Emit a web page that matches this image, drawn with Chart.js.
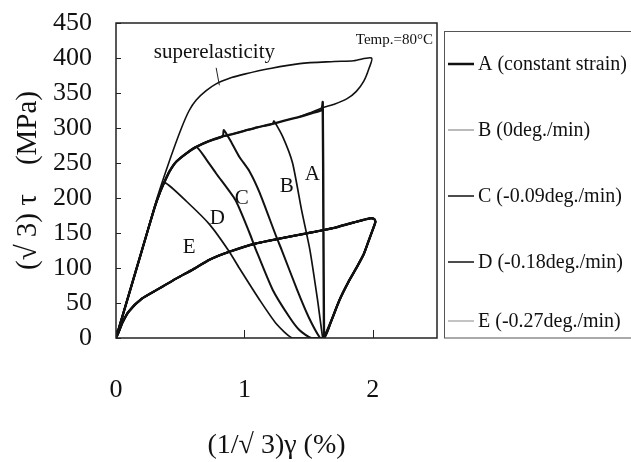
<!DOCTYPE html>
<html>
<head>
<meta charset="utf-8">
<script src="https://cdn.jsdelivr.net/npm/chart.js@4.4.1/dist/chart.umd.min.js"></script>
<style>
  html, body { margin: 0; padding: 0; background: #fff; }
  #wrap { width: 631px; height: 462px; }
</style>
</head>
<body>
<div id="wrap"><canvas id="grafico" width="631" height="462"></canvas></div>
<script>
// strain (1/√3)γ in %, stress (√3)τ in MPa

// common loading path
const loadX = [0, 0.1, 0.2, 0.3, 0.34, 0.38, 0.42, 0.47, 0.55, 0.625, 0.72, 0.83, 0.9, 1.0, 1.1, 1.22, 1.32, 1.43, 1.52, 1.6];
const loadY = [0, 62, 124, 186, 207, 224, 239, 252, 264, 273, 281, 288, 291, 296, 301, 306, 311, 316, 321, 326];

// recovery loop, back to the origin
const loopX = [1.62, 1.68, 1.74, 1.81, 1.875, 1.93, 1.97, 2.0, 2.02, 2.01, 1.98, 1.85, 1.69, 1.5, 1.3, 1.09, 0.88, 0.73, 0.6, 0.47, 0.33, 0.2, 0.1, 0.05, 0.02, 0];
const loopY = [0, 26, 54, 80, 101, 120, 140, 155, 166, 170, 171, 165, 157, 150, 143, 135, 123, 112, 98, 85, 70, 56, 38, 22, 8, 0];

// stress drop of each series
const aX = [1.61, 1.615, 1.62];
const aY = [337, 170, 0];
const bX = [1.23, 1.3, 1.375, 1.445, 1.51, 1.57, 1.61];
const bY = [310, 287, 250, 183, 126, 54, 0];
const cX = [0.84, 0.9, 0.96, 1.04, 1.12, 1.25, 1.29, 1.41, 1.5, 1.59];
const cY = [297, 279, 259, 238, 207, 144, 126, 69, 30, 0];
const dX = [0.625, 0.7, 0.78, 0.93, 1.04, 1.09, 1.22, 1.35, 1.43, 1.52];
const dY = [273, 256, 235, 197, 150, 126, 69, 30, 11, 0];
const eX = [0.38, 0.55, 0.73, 0.88, 0.96, 1.12, 1.25, 1.375];
const eY = [222, 195, 162, 124, 100, 54, 20, 0];

// superelasticity (loading + unloading)
const superX = [0, 0.2, 0.32, 0.42, 0.51, 0.57, 0.625, 0.7, 0.78, 0.9, 1.0, 1.2, 1.43, 1.7, 1.85, 1.99, 1.97, 1.93, 1.87, 1.8, 1.7, 1.61, 1.5, 1.43];
const superY = [0, 124, 200, 255, 300, 325, 340, 353, 363, 372, 377, 385, 392, 395, 396, 400, 385, 367, 352, 342, 334, 329, 321, 316];

const seriesNames = ['A (constant strain)', 'B (0deg./min)', 'C (-0.09deg./min)', 'D (-0.18deg./min)', 'E (-0.27deg./min)'];
const curveTags = ['A', 'B', 'C', 'D', 'E'];
const xTicks = [0, 1, 2];
const yTicks = [0, 50, 100, 150, 200, 250, 300, 350, 400, 450];

// posições dos rótulos (valores nos eixos)
const tagPos = [[1.53, 233], [1.33, 216], [0.98, 200], [0.79, 171], [0.57, 129]];

function pares(xs, ys) {
  return xs.map((x, i) => ({ x: x, y: ys[i] }));
}

// loading up to the branch, drop, then the loop
function montarSerie(dropX, dropY) {
  const inicio = pares(loadX, loadY).filter(p => p.x < dropX[0]);
  const queda = pares(dropX, dropY);
  const fim = pares(loopX, loopY);
  return inicio.concat(queda, fim);
}

const drops = [[aX, aY], [bX, bY], [cX, cY], [dX, dY], [eX, eY]];
const larguras = [2.4, 1.7, 2, 2, 1.7];
const coresLegenda = ['#111', '#777', '#111', '#111', '#888'];
const legendaLargura = [2.5, 1, 1.5, 1.5, 1];

const datasets = drops.map((d, i) => ({
  label: seriesNames[i],
  data: montarSerie(d[0], d[1]),
  borderColor: '#111',
  borderWidth: larguras[i],
  showLine: true,
  pointRadius: 0,
  tension: 0.2
}));
datasets.push({
  label: 'superelasticity',
  data: pares(superX, superY),
  borderColor: '#111',
  borderWidth: 1.6,
  showLine: true,
  pointRadius: 0,
  tension: 0.3
});

const serif = 'Liberation Serif';

const extras = {
  id: 'extras',
  afterDraw(chart) {
    const ctx = chart.ctx;
    const a = chart.chartArea;
    const sx = chart.scales.x, sy = chart.scales.y;
    ctx.save();
    ctx.strokeStyle = '#222';
    ctx.lineWidth = 1.5;
    ctx.strokeRect(a.left, a.top, a.right - a.left, a.bottom - a.top);

    // ticks para dentro
    ctx.lineWidth = 1;
    yTicks.forEach(v => {
      const py = Math.round(sy.getPixelForValue(v)) + 0.5;
      ctx.beginPath(); ctx.moveTo(a.left, py); ctx.lineTo(a.left + 5, py); ctx.stroke();
    });
    xTicks.forEach(v => {
      const px = Math.round(sx.getPixelForValue(v)) + 0.5;
      ctx.beginPath(); ctx.moveTo(px, a.bottom); ctx.lineTo(px, a.bottom - 8); ctx.stroke();
    });

    ctx.fillStyle = '#111';
    ctx.textAlign = 'center';
    ctx.textBaseline = 'middle';
    ctx.font = '21px "' + serif + '"';
    curveTags.forEach((t, i) => {
      ctx.fillText(t, sx.getPixelForValue(tagPos[i][0]), sy.getPixelForValue(tagPos[i][1]));
    });

    // superelasticity + seta
    ctx.fillText('superelasticity', sx.getPixelForValue(0.766), sy.getPixelForValue(408));
    ctx.beginPath();
    ctx.moveTo(sx.getPixelForValue(0.78), sy.getPixelForValue(386));
    ctx.lineTo(sx.getPixelForValue(0.805), sy.getPixelForValue(361));
    ctx.stroke();

    ctx.textAlign = 'right';
    ctx.font = '15px "' + serif + '"';
    ctx.fillText('Temp.=80\u00B0C', a.right - 4, a.top + 17);

    // legenda
    ctx.strokeStyle = '#555';
    ctx.lineWidth = 1;
    ctx.strokeRect(444.5, 31.5, 220, 306.5);
    const ys = [64, 130, 196, 262, 321];
    ctx.textAlign = 'left';
    ctx.font = '20px "' + serif + '"';
    seriesNames.forEach((n, i) => {
      ctx.strokeStyle = coresLegenda[i];
      ctx.lineWidth = legendaLargura[i];
      ctx.beginPath(); ctx.moveTo(448, ys[i]); ctx.lineTo(474, ys[i]); ctx.stroke();
      ctx.fillText(n, 478, ys[i] + 1);
    });
    ctx.restore();
  }
};

new Chart(document.getElementById('grafico'), {
  type: 'scatter',
  data: { datasets: datasets },
  options: {
    responsive: false,
    animation: false,
    layout: { padding: { top: 23, right: 194, left: 0, bottom: 0 } },
    plugins: { legend: { display: false }, tooltip: { enabled: false } },
    scales: {
      x: {
        type: 'linear',
        min: 0, max: 2.5,
        afterBuildTicks: s => { s.ticks = xTicks.map(v => ({ value: v })); },
        afterFit: s => { s.height = 124; s.paddingLeft = 0; s.paddingRight = 0; },
        grid: { display: false, drawTicks: false },
        border: { display: false },
        ticks: { color: '#111', padding: 37, autoSkip: false, maxRotation: 0, font: { family: serif, size: 26 } },
        title: { display: true, text: '(1/\u221A 3)\u03B3 (%)', color: '#111', padding: { top: 4, bottom: 0 }, font: { family: serif, size: 28 } }
      },
      y: {
        type: 'linear',
        min: 0, max: 450,
        afterBuildTicks: s => { s.ticks = yTicks.map(v => ({ value: v })); },
        afterFit: s => { s.width = 116; s.paddingTop = 0; s.paddingBottom = 0; },
        grid: { display: false, drawTicks: false },
        border: { display: false },
        ticks: { color: '#111', padding: 24, autoSkip: false, font: { family: serif, size: 26 } },
        title: { display: true, text: '(\u221A 3) \u03C4    (MPa)', color: '#111', padding: { top: 11, bottom: 0 }, font: { family: serif, size: 29 } }
      }
    }
  },
  plugins: [extras]
});
</script>
</body>
</html>
